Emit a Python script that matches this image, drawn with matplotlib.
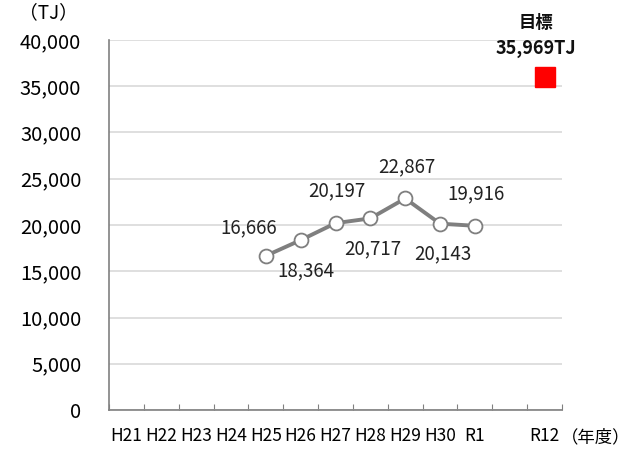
import matplotlib
matplotlib.use("Agg")
import matplotlib.pyplot as plt

plt.rcParams['font.family'] = ['Noto Sans CJK JP', 'DejaVu Sans']

categories = ["H21", "H22", "H23", "H24", "H25", "H26", "H27", "H28", "H29", "H30", "R1", "", "R12"]
actual_cats = ["H25", "H26", "H27", "H28", "H29", "H30", "R1"]
actual_vals = [16666, 18364, 20197, 20717, 22867, 20143, 19916]
label_pos = ["ul", "dr", "u", "d", "u", "d", "u"]
target_cat = "R12"
target_val = 35969
yticks = [0, 5000, 10000, 15000, 20000, 25000, 30000, 35000, 40000]

fig = plt.figure(figsize=(6.34, 4.5), dpi=100)
ax = fig.add_axes([109/634, 1-410/450, (562-109)/634, (410-40)/450])

idx = {c: i for i, c in enumerate(categories)}
xs = [idx[c] + 0.5 for c in actual_cats]
ax.plot(xs, actual_vals, color="#7f7f7f", lw=2.8, marker="o", ms=10,
        mfc="white", mec="#7f7f7f", mew=1.3, zorder=3)

offsets = {"ul": (-12, 20), "dr": (4, -22), "u": (1, 23), "d": (2, -22)}
for x, v, p in zip(xs, actual_vals, label_pos):
    dx, dy = offsets[p]
    ax.annotate(f"{v:,}", (x, v), xytext=(dx, dy), textcoords="offset points",
                ha="center", va="center", fontsize=13.5, color="#222222")

tx = idx[target_cat] + 0.5
ax.plot([tx], [target_val], marker="s", ms=14, color="#ff0000", ls="none", zorder=3)
ax.annotate("目標", (tx, target_val), xytext=(-6, 39), textcoords="offset points",
            ha="center", va="center", fontsize=12.5, fontweight="bold", color="#111111")
ax.annotate(f"{target_val:,}TJ", (tx, target_val), xytext=(-6, 21), textcoords="offset points",
            ha="center", va="center", fontsize=13, fontweight="bold", color="#111111")

ax.set_xlim(0, len(categories))
ax.set_ylim(0, 40000)
ax.set_yticks(yticks)
ax.set_yticklabels([f"{t:,}" for t in yticks], fontsize=14.5)
ax.set_xticks(range(len(categories) + 1))
ax.set_xticklabels([])
ax.set_xticks([i + 0.5 for i in range(len(categories))], minor=True)
ax.set_xticklabels(categories, minor=True, fontsize=12.5)
ax.tick_params(axis="x", which="major", direction="in", length=4, color="#808080")
ax.tick_params(axis="x", which="minor", length=0, pad=12)
ax.tick_params(axis="y", length=0, pad=20)

ax.grid(axis="y", color="#d9d9d9", lw=1.2)
ax.set_axisbelow(True)
for s in ["top", "right"]:
    ax.spines[s].set_visible(False)
for s in ["left", "bottom"]:
    ax.spines[s].set_color("#808080")
    ax.spines[s].set_linewidth(1.2)

fig.text(48/634, 1-13/450, "（TJ）", ha="center", va="center", fontsize=13.5)
fig.text(596/634, 1-437/450, "（年度）", ha="center", va="center", fontsize=12.5)

fig.savefig("out.png", dpi=100)
